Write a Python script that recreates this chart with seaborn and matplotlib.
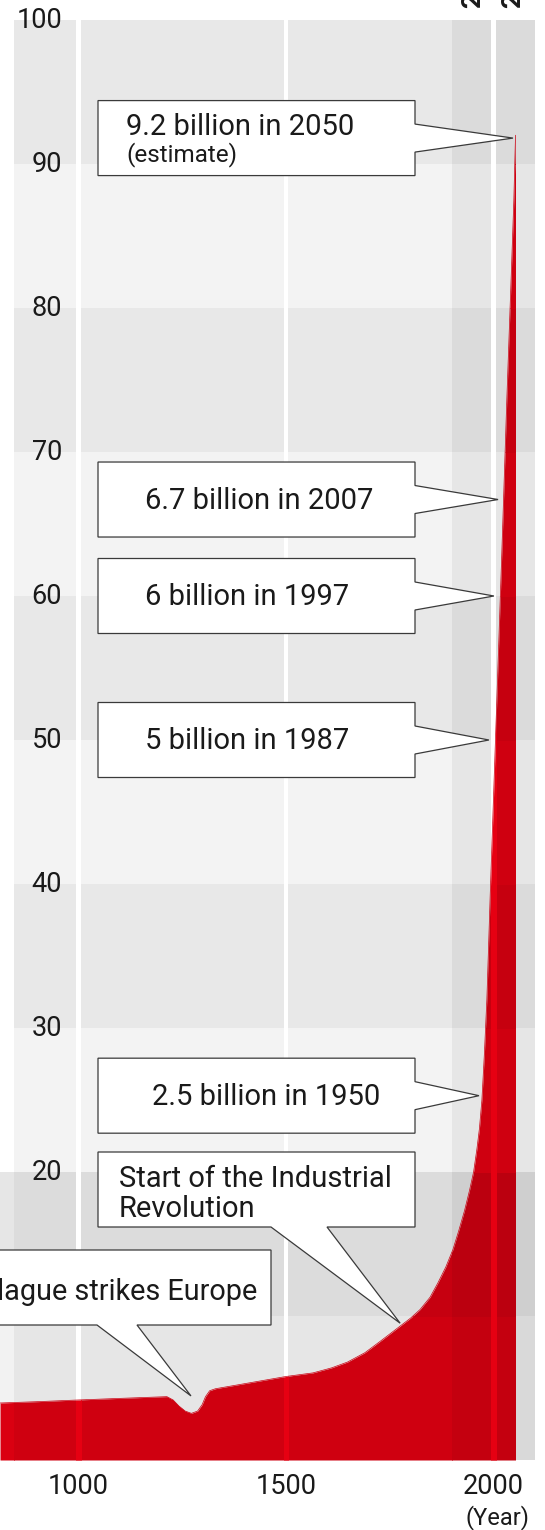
import numpy as np
import matplotlib
matplotlib.use("Agg")
import matplotlib.pyplot as plt
from matplotlib.patches import Rectangle, Polygon
import seaborn as sns

# ---------------- data (world population, in hundreds of millions) ----------------
years = [811, 900, 1000, 1100, 1213, 1228, 1242, 1257, 1272, 1287, 1298, 1306, 1316,
         1330, 1420, 1500, 1565, 1610, 1648, 1690, 1725, 1775, 1800, 1823, 1847, 1866,
         1885, 1902, 1916, 1930, 1942, 1952, 1960, 1966, 1972, 1978, 1984, 1992, 2000,
         2010, 2020, 2032, 2043, 2049, 2053]
population = [3.96, 4.05, 4.17, 4.28, 4.40, 4.17, 3.75, 3.40, 3.24, 3.40, 3.85, 4.40, 4.81,
              4.95, 5.40, 5.80, 6.05, 6.40, 6.80, 7.45, 8.20, 9.30, 9.85, 10.45, 11.3, 12.3,
              13.4, 14.6, 15.9, 17.3, 18.7, 20.0, 21.6, 23.0, 25.0, 28.2, 32.0, 39.2, 46.0,
              54.5, 63.0, 73.6, 82.5, 87.5, 92.0]

ytick_values = [20, 30, 40, 50, 60, 70, 80, 90, 100]
xtick_years = [1000, 1500, 2000]
xtick_labels = ["1000", "1500", "2000"]
century_labels = ["20th century", "21st century"]
century_years = [1952, 2050]

milestone_labels = ["9.2 billion in 2050", "6.7 billion in 2007", "6 billion in 1997",
                    "5 billion in 1987", "2.5 billion in 1950"]
milestone_values = [91.8, 66.7, 60.0, 50.0, 25.3]
milestone_tip_years = [2047, 2011, 2001, 1989, 1965]

event_labels = ["Start of the Industrial\nRevolution", "Plague strikes Europe"]
event_tip_years = [1775, 1271]
event_tip_values = [9.5, 4.45]

# ---------------- figure / coordinate frame ----------------
W, H = 545, 1530
X0 = 1000 - 78.5 * 500 / 207.5
X1 = 1000 + (W - 78.5) * 500 / 207.5
Y0 = (1460 - H) / 14.4
Y1 = 1460 / 14.4


def dx(px):
    return X0 + px * (X1 - X0) / W


def dy(py):
    return Y1 - py * (Y1 - Y0) / H


def py_of(v):
    return (Y1 - v) * H / (Y1 - Y0)


sns.set_theme(style="white")
plt.rcParams["font.family"] = ["Roboto", "DejaVu Sans"]

fig = plt.figure(figsize=(W / 100, H / 100), dpi=100)
ax = fig.add_axes([0, 0, 1, 1])
ax.set_axis_off()

RED = np.array([230, 0, 18]) / 255.0


def hexgray(v):
    return (v / 255.0,) * 3


def mult(bg):
    return tuple(RED * np.array(bg))


# background band colours (bands 0-10, 10-20, ... 90-100)
main_band = [0xe6, 0xdc, 0xf3, 0xe8, 0xf3, 0xe8, 0xf3, 0xe8, 0xf3, 0xe8]
left_band = [0xf2, 0xe6]
dark_shift = 0x0d

cells = []
for i in range(2):
    cells.append((X0, 845, i * 10, i * 10 + 10, hexgray(left_band[i])))
for i in range(10):
    cells.append((845, 1900, i * 10, i * 10 + 10, hexgray(main_band[i])))
    cells.append((1900, 2100, i * 10, i * 10 + 10, hexgray(main_band[i] - dark_shift)))

for (x0, x1, y0, y1, bg) in cells:
    r = Rectangle((x0, y0), x1 - x0, y1 - y0, facecolor=bg, edgecolor="none", zorder=0)
    ax.add_patch(r)
    poly = ax.fill_between(years, population, 0, color=mult(bg), lw=0, zorder=1)
    poly.set_clip_path(r)

# white vertical gridlines
gw = 5.5
for xv in xtick_years:
    r = Rectangle((xv - gw, 0), 2 * gw, 100, facecolor="white", edgecolor="none", zorder=2)
    ax.add_patch(r)
    poly = ax.fill_between(years, population, 0, color=mult((1, 1, 1)), lw=0, zorder=3)
    poly.set_clip_path(r)

# thin outline of the curve (seaborn)
sns.lineplot(x=years, y=population, ax=ax, color=(0.80, 0.0, 0.07), lw=0.5,
             zorder=4, legend=False)

TXT = "#1a1a1a"
# y tick labels
for v in ytick_values:
    ax.text(dx(62), v, str(v), ha="right", va="center", fontsize=19.5, color=TXT, zorder=5)
# x tick labels
for xv, lab in zip(xtick_years, xtick_labels):
    ax.text(xv, dy(1487), lab, ha="center", va="center", fontsize=19.5, color=TXT)
ax.text(dx(498), dy(1518), "(Year)", ha="center", va="center", fontsize=17, color=TXT)

# century labels at the top (rotated, mostly cut off)
for cy, lab in zip(century_years, century_labels):
    ax.text(cy, dy(8), lab, rotation=90, ha="center", va="bottom", fontsize=19,
            color=TXT, fontweight="bold", clip_on=False)

EDGE = "#3a3a3a"
FS = 21
# milestone callouts (pointing right)
text_x = [126, 145, 145, 145, 152]
for lab, val, ty, tx in zip(milestone_labels, milestone_values, milestone_tip_years, text_x):
    c = py_of(val)
    top, bot = c - 37.5, c + 37.5
    pts = [(dx(98), dy(top)), (dx(415), dy(top)), (dx(415), dy(c - 14)), (ty, val),
           (dx(415), dy(c + 14)), (dx(415), dy(bot)), (dx(98), dy(bot))]
    ax.add_patch(Polygon(pts, closed=True, facecolor="white", edgecolor=EDGE, lw=0.9,
                         zorder=6, joinstyle="miter"))
    if "2050" in lab:
        ax.text(dx(tx), dy(135), lab, ha="left", va="baseline", fontsize=FS, color=TXT, zorder=7)
        ax.text(dx(tx), dy(161), "(estimate)", ha="left", va="baseline", fontsize=17.5,
                color=TXT, zorder=7)
    else:
        ax.text(dx(tx), dy(c + 1), lab, ha="left", va="center", fontsize=FS, color=TXT, zorder=7)

# event callouts (pointing down)
boxes = [(98, 415, 1152, 1227, 271, 327), (-60, 271, 1250, 1325, 97, 137)]
for (lab, ty, tv, (bx0, bx1, bt, bb, b0, b1)) in zip(event_labels, event_tip_years,
                                                     event_tip_values, boxes):
    pts = [(dx(bx0), dy(bt)), (dx(bx1), dy(bt)), (dx(bx1), dy(bb)), (dx(b1), dy(bb)),
           (ty, tv), (dx(b0), dy(bb)), (dx(bx0), dy(bb))]
    ax.add_patch(Polygon(pts, closed=True, facecolor="white", edgecolor=EDGE, lw=0.9,
                         zorder=6, joinstyle="miter", clip_on=False))

l1, l2 = event_labels[0].split("\n")
ax.text(dx(119), dy(1187), l1, ha="left", va="baseline", fontsize=FS, color=TXT, zorder=7)
ax.text(dx(119), dy(1217), l2, ha="left", va="baseline", fontsize=FS, color=TXT, zorder=7)
ax.text(dx(257), dy(1300), event_labels[1], ha="right", va="baseline", fontsize=20.8,
        color=TXT, zorder=7)

ax.set_xlim(X0, X1)
ax.set_ylim(Y0, Y1)
fig.savefig("out.png", dpi=100)
